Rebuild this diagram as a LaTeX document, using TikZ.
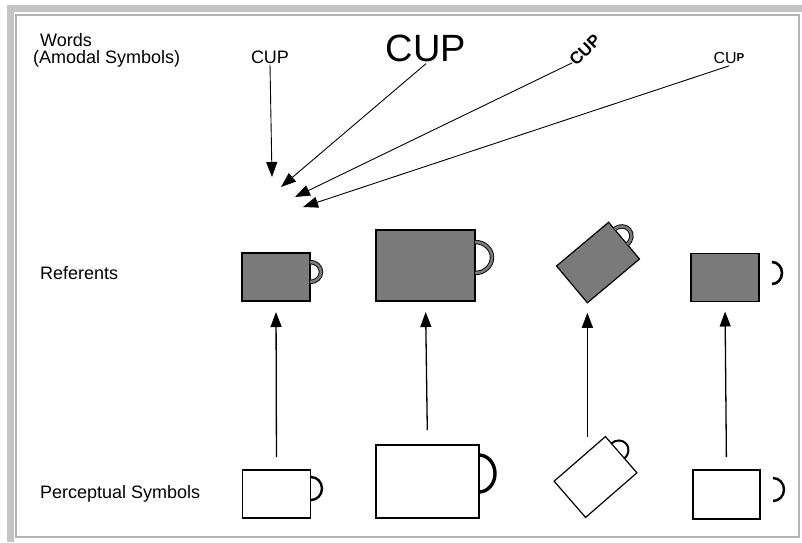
\documentclass[tikz,border=0pt]{standalone}
\usepackage{fontspec}
\setmainfont{Liberation Sans}
\usetikzlibrary{arrows.meta,calc}
\definecolor{bandgray}{HTML}{C4C4C4}
\definecolor{linegray}{HTML}{B4B4B4}
\definecolor{dither}{HTML}{7A7A7A}
\tikzset{
  lbl/.style={anchor=base west, inner sep=0pt, font=\fontsize{18}{18}\selectfont},
  word/.style={inner sep=1pt, font=\fontsize{18}{18}\selectfont},
  refbox/.style={draw=black, fill=dither, line width=1.2pt, minimum width=68pt, minimum height=48pt, inner sep=0pt, outer sep=0pt},
  percbox/.style={draw=black, fill=white, line width=1.2pt, minimum width=68pt, minimum height=48pt, inner sep=0pt, outer sep=0pt},
  refhandle/.style={draw=black, double=dither, double distance=2.6pt, line width=0.9pt},
  perchandle/.style={draw=black, line width=2.4pt},
  arr/.style={-{Triangle[length=15pt,width=11pt]}, line width=1.3pt},
  warr/.style={-{Triangle[length=15pt,width=11pt]}, line width=0.9pt},
}
\begin{document}
\begin{tikzpicture}[x=1pt,y=-1pt]
\useasboundingbox (0,0) rectangle (802,542);
% frame
\fill[bandgray] (7,5) rectangle (802,12);
\fill[bandgray] (7,5) rectangle (14,542);
\draw[linegray, line width=1.5pt] (16,15) rectangle (799,537);

% row labels
\node[lbl] (lwords) at (40,46) {Words};
\node[lbl] (lamodal) at (33,63) {(Amodal Symbols)};
\node[lbl] (lref) at (40,279) {Referents};
\node[lbl] (lperc) at (40,498) {Perceptual Symbols};

% words
\node[word] (w1) at (270,57) {CUP};
\node[word, font=\fontsize{38}{38}\selectfont, inner sep=2pt] (w2) at (426,48) {CUP};
\node[word, font=\fontsize{17}{17}\bfseries\selectfont, rotate=45, inner sep=0pt] (w3) at (585,50) {CUP};
\node[word, font=\fontsize{16}{16}\selectfont, inner sep=2pt] (w4) at (729,58) {CU\raisebox{2.4pt}{\fontsize{11.5}{11.5}\bfseries\selectfont P}};

\coordinate (t1) at (272,177);
\coordinate (t2) at (281,187);
\coordinate (t3) at (295,197);
\coordinate (t4) at (303,207);
\draw[warr] (w1.south) -- (t1);
\draw[warr] (w2.south) -- (t2);
\draw[warr] (w3.west) -- (t3);
\draw[warr] (w4.south) -- (t4);

% referents
\node[refbox] (r1) at (276,277) {};
\draw[refhandle] (310,262) arc[start angle=-90, end angle=90, x radius=11, y radius=10];
\node[refbox, minimum width=99pt, minimum height=71pt] (r2) at (425.5,265.5) {};
\draw[refhandle] (475,242) arc[start angle=-90, end angle=90, x radius=17, y radius=15.5];
\node[refbox, rotate=40] (r3) at (598,262.5) {};
\begin{scope}[shift={(598,262.5)}, rotate=40]
  \draw[refhandle] (34,-15) arc[start angle=-90, end angle=90, x radius=11, y radius=10];
\end{scope}
\node[refbox] (r4) at (725,277.5) {};
\draw[perchandle, line width=2.6pt] (772,262) arc[start angle=-90, end angle=90, x radius=10, y radius=11];

% perceptual symbols
\node[percbox] (p1) at (276.5,494) {};
\draw[perchandle] (311,477) arc[start angle=-90, end angle=90, x radius=11, y radius=11.5];
\node[percbox, minimum width=103pt, minimum height=73pt] (p2) at (427.5,481.5) {};
\draw[perchandle, line width=3.4pt] (479,455) arc[start angle=-90, end angle=90, x radius=16, y radius=18.5];
\node[percbox, rotate=41] (p3) at (595.5,477) {};
\begin{scope}[shift={(595.5,477)}, rotate=41]
  \draw[perchandle, line width=2pt] (34,-15) arc[start angle=-90, end angle=90, x radius=11, y radius=10];
\end{scope}
\node[percbox, minimum width=67pt, minimum height=49pt] (p4) at (726.5,494.5) {};
\draw[perchandle] (773,478) arc[start angle=-90, end angle=90, x radius=11, y radius=11.5];

% vertical arrows
\draw[arr, shorten <=13pt, shorten >=11pt] (p1.north) -- (r1.south);
\draw[arr, shorten <=15pt, shorten >=11pt] (p2.north) -- (r2.south);
\draw[arr, shorten >=10pt] (p3.north east -| r3.south west) -- (r3.south west);
\draw[arr, shorten <=13pt, shorten >=10pt] (p4.north) -- (r4.south);
\end{tikzpicture}
\end{document}
